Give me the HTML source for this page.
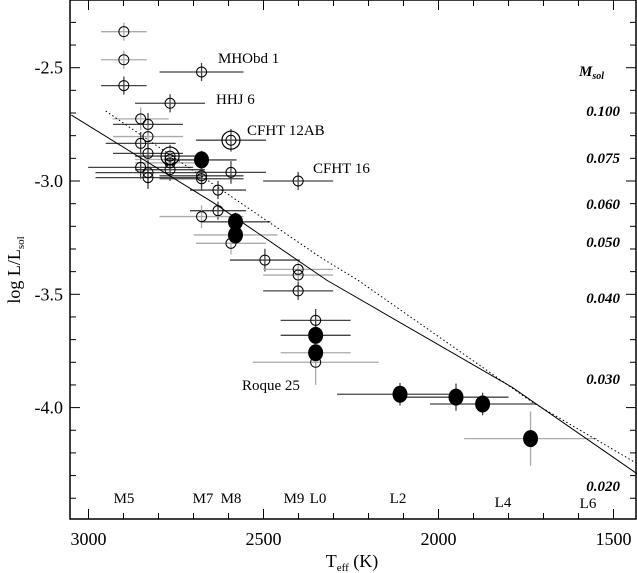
<!DOCTYPE html>
<html><head><meta charset="utf-8"><style>
body{margin:0;background:#fff}
svg{display:block;font-family:"Liberation Serif",serif}
</style></head><body>
<svg id="chart" width="637" height="573" viewBox="0 0 637 573" xmlns="http://www.w3.org/2000/svg">
<g id="err"></g>
<g id="lines"></g>
<g id="pts"></g>
<g id="axes"></g>
<g font-size="15">
<text x="218" y="63">MHObd 1</text>
<text x="216" y="104">HHJ 6</text>
<text x="247" y="135">CFHT 12AB</text>
<text x="313" y="173">CFHT 16</text>
<text x="242" y="390">Roque 25</text>
</g>
<g font-size="15" text-anchor="middle">
<text x="124" y="503">M5</text><text x="203" y="503">M7</text><text x="231" y="503">M8</text>
<text x="294" y="503">M9</text><text x="318" y="503">L0</text><text x="398" y="503">L2</text>
<text x="503" y="507">L4</text><text x="588" y="508">L6</text>
</g>
<g font-size="15" font-weight="bold" font-style="italic" text-anchor="end">
<text x="604" y="76">M<tspan font-size="10" dy="3">sol</tspan></text>
<text x="620" y="116">0.100</text><text x="620" y="163">0.075</text><text x="620" y="209">0.060</text>
<text x="620" y="247">0.050</text><text x="620" y="303">0.040</text><text x="620" y="384">0.030</text>
<text x="620" y="491">0.020</text>
</g>
<text x="352" y="567" font-size="18" text-anchor="middle">T<tspan font-size="11" dy="4">eff</tspan><tspan dy="-4"> (K)</tspan></text>
<text transform="translate(20,270) rotate(-90)" font-size="18" text-anchor="middle">log L/L<tspan font-size="11" dy="4">sol</tspan></text>
</svg>
<script>
const temps=[2899,2899,2899,2677,2767,2851,2830,2830,2851,2830,2767,2767,2767,2767,2851,2830,2830,2677,2677,2677,2593,2593,2401,2630,2630,2677,2580,2580,2593,2496,2401,2401,2401,2351,2351,2351,2351,2110,1950,1874,1737];
const lums=[-2.341,-2.465,-2.579,-2.519,-2.657,-2.726,-2.75,-2.804,-2.834,-2.878,-2.89,-2.905,-2.92,-2.95,-2.94,-2.963,-2.985,-2.907,-2.977,-2.99,-2.82,-2.962,-3.0,-3.04,-3.131,-3.157,-3.18,-3.238,-3.275,-3.349,-3.39,-3.415,-3.485,-3.615,-3.681,-3.758,-3.80,-3.941,-3.954,-3.984,-4.137];
const kinds=[0,0,0,0,0,0,0,0,0,0,2,0,0,0,0,0,0,1,0,0,2,0,0,0,0,0,1,1,0,0,0,0,0,0,1,1,0,1,1,1,1];
const xerr=[65,65,65,120,100,80,100,100,100,100,100,100,100,100,150,150,150,100,120,120,100,100,100,80,80,120,100,120,100,100,100,100,100,100,100,100,180,180,150,150,190];
const yerr=[0.04,0.04,0.04,0.04,0.04,0.05,0.05,0.05,0.05,0.05,0.05,0.05,0.05,0.05,0.05,0.05,0.05,0.04,0.05,0.05,0.05,0.05,0.04,0.04,0.04,0.05,0.04,0.04,0.05,0.05,0.04,0.04,0.04,0.05,0.05,0.05,0.1,0.05,0.06,0.05,0.12];
const gray=[1,1,0,0,0,1,0,1,0,0,0,1,1,0,0,0,0,0,0,0,0,0,0,0,0,1,0,1,1,0,1,1,0,0,0,1,1,0,0,0,1];
const solidT=[3049,2641,2319,1790,1425];
const solidL=[-2.709,-3.098,-3.438,-3.91,-4.30];
const dotT=[2951,2333,2230,1730,1425];
const dotL=[-2.691,-3.341,-3.438,-3.978,-4.254];
const xTicks=[3000,2500,2000,1500];
const yTicks=[-2.5,-3.0,-3.5,-4.0];

const X=t=>88.5+(3000-t)*0.35;
const Y=l=>67.7+(-2.5-l)*226.6;
const NS='http://www.w3.org/2000/svg';
function mk(tag,at,parent){const e=document.createElementNS(NS,tag);for(const k in at)e.setAttribute(k,at[k]);parent.appendChild(e);return e;}
const gE=document.getElementById('err'),gP=document.getElementById('pts'),gL=document.getElementById('lines'),gA=document.getElementById('axes');
for(let i=0;i<temps.length;i++){
  const x=X(temps[i]),y=Y(lums[i]),c=gray[i]?'#aaa':'#444';
  const h=mk('line',{x1:X(temps[i]+xerr[i]),x2:X(temps[i]-xerr[i]),y1:y,y2:y,stroke:c,'stroke-width':1.3},gE);
  
  
  const v=mk('line',{x1:x,x2:x,y1:Y(lums[i]+yerr[i]),y2:Y(lums[i]-yerr[i]),stroke:c,'stroke-width':1.3},gE);
  
  
  let p;
  if(kinds[i]===1){p=mk('ellipse',{cx:x,cy:y,rx:7.5,ry:8.5,fill:'#000'},gP);}
  else{p=mk('circle',{cx:x,cy:y,r:5,fill:'none',stroke:'#000','stroke-width':1},gP);
    if(kinds[i]===2)mk('circle',{cx:x,cy:y,r:9,fill:'none',stroke:'#000','stroke-width':1.2},gP);}
  
  
}
const sl=mk('polyline',{points:solidT.map((t,i)=>X(t)+','+Y(solidL[i])).join(' '),fill:'none',stroke:'#000','stroke-width':1},gL);


const dl=mk('polyline',{points:dotT.map((t,i)=>X(t)+','+Y(dotL[i])).join(' '),fill:'none',stroke:'#000','stroke-width':1,'stroke-dasharray':'1.5,2.5'},gL);


// frame
const L=70,R=636,T=0,B=519;
const fr=mk('rect',{x:L,y:T,width:R-L,height:B-T,fill:'none',stroke:'#000','stroke-width':1.5},gA);


for(let t=3000;t>=1450;t-=100){const x=X(t),m=(t%500===0)?10:6;
  mk('line',{x1:x,x2:x,y1:B,y2:B-m,stroke:'#000'},gA);mk('line',{x1:x,x2:x,y1:T,y2:T+m,stroke:'#000'},gA);}
for(let k=-22;k>=-44;k--){const l=k/10,y=Y(l),m=(k%5===0)?10:6;
  mk('line',{x1:L,x2:L+m,y1:y,y2:y,stroke:'#000'},gA);mk('line',{x1:R,x2:R-m,y1:y,y2:y,stroke:'#000'},gA);}
xTicks.forEach(t=>{const e=mk('text',{x:X(t),y:545,'font-size':18,'text-anchor':'middle'},gA);e.textContent=t;
  
  });
yTicks.forEach(l=>{const e=mk('text',{x:63,y:Y(l)+6,'font-size':18,'text-anchor':'end'},gA);e.textContent=l.toFixed(1);
  
  });
</script>
</body></html>
